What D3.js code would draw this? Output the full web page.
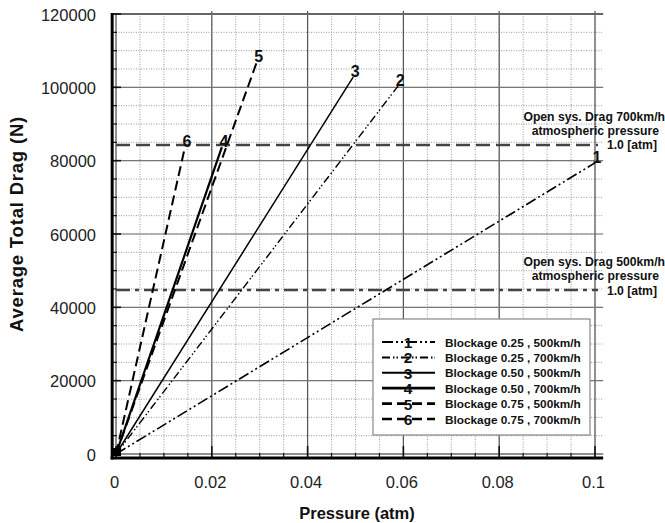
<!DOCTYPE html>
<html>
<head>
<meta charset="utf-8">
<script src="https://cdn.jsdelivr.net/npm/d3@7"></script>
<style>
  body { margin: 0; background: #fff; }
  text { font-family: "Liberation Sans", Arial, sans-serif; }
</style>
</head>
<body>
<div id="chart"></div>
<script>
// series: end points, every line starts at the origin
var seriesIds = ["1", "2", "3", "4", "5", "6"];
var seriesNames = [
  "Blockage 0.25 , 500km/h",
  "Blockage 0.25 , 700km/h",
  "Blockage 0.50 , 500km/h",
  "Blockage 0.50 , 700km/h",
  "Blockage 0.75 , 500km/h",
  "Blockage 0.75 , 700km/h"
];
var pressure = [
  [0, 0.1],
  [0, 0.0589],
  [0, 0.0495],
  [0, 0.0221],
  [0, 0.0294],
  [0, 0.0144]
];
var drag = [
  [0, 79400],
  [0, 100400],
  [0, 102800],
  [0, 83700],
  [0, 106900],
  [0, 83700]
];

// open system reference drags at 1.0 atm
var refNames = ["Open sys. Drag 700km/h", "Open sys. Drag 500km/h"];
var refDrag = [84300, 44700];

var xTicks = [0, 0.02, 0.04, 0.06, 0.08, 0.1];
var xTickLabels = ["0", "0.02", "0.04", "0.06", "0.08", "0.1"];
var yTicks = [0, 20000, 40000, 60000, 80000, 100000, 120000];

var width = 665, height = 523;

var svg = d3
  .select("#chart")
  .append("svg")
  .attr("width", width)
  .attr("height", height);

var x = d3.scaleLinear().domain([0, 0.1]).range([116, 595]);
var y = d3.scaleLinear().domain([0, 120000]).range([454, 14]);

var xLeft = x(-0.0008), xRight = x(0.1017);
var yBottom = y(-1100), yTop = y(120000);

// minor grid (dotted)
var grid = svg.append("g");
grid
  .selectAll("line.vminor")
  .data(d3.range(0.005, 0.1016, 0.005))
  .enter()
  .append("line")
  .attr("x1", (d) => x(d))
  .attr("x2", (d) => x(d))
  .attr("y1", yTop)
  .attr("y2", y(0))
  .attr("stroke", "#9a9a9a")
  .attr("stroke-width", 1)
  .attr("stroke-dasharray", "1,1.5");
grid
  .selectAll("line.hminor")
  .data(d3.range(5000, 120000, 5000))
  .enter()
  .append("line")
  .attr("x1", x(0))
  .attr("x2", xRight)
  .attr("y1", (d) => y(d))
  .attr("y2", (d) => y(d))
  .attr("stroke", "#9a9a9a")
  .attr("stroke-width", 1)
  .attr("stroke-dasharray", "1,1.5");

// major grid (solid)
grid
  .selectAll("line.vmajor")
  .data(xTicks.slice(1))
  .enter()
  .append("line")
  .attr("x1", (d) => x(d))
  .attr("x2", (d) => x(d))
  .attr("y1", yTop - 3)
  .attr("y2", yBottom)
  .attr("stroke", "#555")
  .attr("stroke-width", 1.2);
grid
  .selectAll("line.hmajor")
  .data(yTicks.slice(1))
  .enter()
  .append("line")
  .attr("x1", xLeft)
  .attr("x2", xRight)
  .attr("y1", (d) => y(d))
  .attr("y2", (d) => y(d))
  .attr("stroke", (d) => (d === 120000 ? "#666" : "#777"))
  .attr("stroke-width", (d) => (d === 120000 ? 2 : 1.2));

// zero lines + small ticks between them and the axes
grid
  .append("line")
  .attr("x1", x(0)).attr("x2", x(0))
  .attr("y1", yTop).attr("y2", yBottom)
  .attr("stroke", "#222").attr("stroke-width", 1);
grid
  .append("line")
  .attr("x1", xLeft).attr("x2", xRight)
  .attr("y1", y(0)).attr("y2", y(0))
  .attr("stroke", "#222").attr("stroke-width", 1);
grid
  .selectAll("line.ytick")
  .data(d3.range(0, 120001, 5000))
  .enter()
  .append("line")
  .attr("x1", xLeft)
  .attr("x2", (d) => (d % 20000 === 0 ? x(0) + 5 : x(0) + 1))
  .attr("y1", (d) => y(d))
  .attr("y2", (d) => y(d))
  .attr("stroke", "#111")
  .attr("stroke-width", (d) => (d % 20000 === 0 ? 1.6 : 1.2));
grid
  .selectAll("line.xtick")
  .data(d3.range(0, 0.1016, 0.005))
  .enter()
  .append("line")
  .attr("x1", (d) => x(d))
  .attr("x2", (d) => x(d))
  .attr("y1", (d) => (Math.round(d * 1000) % 20 === 0 ? y(0) - 8 : y(0) - 1))
  .attr("y2", yBottom)
  .attr("stroke", "#111")
  .attr("stroke-width", (d) => (Math.round(d * 1000) % 20 === 0 ? 1.6 : 1.2));

// axis lines
svg
  .append("line")
  .attr("x1", xLeft).attr("x2", xLeft)
  .attr("y1", yTop - 1).attr("y2", yBottom + 1.5)
  .attr("stroke", "#000").attr("stroke-width", 3);
svg
  .append("line")
  .attr("x1", xLeft - 1.5).attr("x2", xRight)
  .attr("y1", yBottom).attr("y2", yBottom)
  .attr("stroke", "#000").attr("stroke-width", 3);

// tick labels
svg
  .append("g")
  .attr("transform", "translate(96,1)")
  .call(d3.axisLeft(y).tickValues(yTicks).tickSize(0).tickPadding(0).tickFormat(d3.format("d")))
  .call((g) => g.select(".domain").remove())
  .selectAll("text")
  .attr("font-family", "Liberation Sans, Arial, sans-serif")
  .attr("font-size", 16.5)
  .attr("fill", "#222");

svg
  .append("g")
  .attr("transform", "translate(-2," + 476 + ")")
  .call(
    d3.axisBottom(x).tickValues(xTicks).tickSize(0).tickPadding(0)
      .tickFormat((d, i) => xTickLabels[i])
  )
  .call((g) => g.select(".domain").remove())
  .selectAll("text")
  .attr("font-family", "Liberation Sans, Arial, sans-serif")
  .attr("font-size", 16.5)
  .attr("fill", "#222");

// axis titles
svg
  .append("text")
  .attr("x", 357)
  .attr("y", 519)
  .attr("text-anchor", "middle")
  .attr("font-weight", "bold")
  .attr("font-size", 16.5)
  .attr("fill", "#111")
  .text("Pressure (atm)");
svg
  .append("text")
  .attr("transform", "translate(23,224) rotate(-90)")
  .attr("text-anchor", "middle")
  .attr("font-weight", "bold")
  .attr("font-size", 18.5)
  .attr("letter-spacing", 0.8)
  .attr("fill", "#111")
  .text("Average Total Drag (N)");

// reference lines
var refDash = ["14,6", "14,5,4,5"];
refDrag.forEach(function (v, i) {
  svg
    .append("line")
    .attr("x1", x(0))
    .attr("x2", 598)
    .attr("y1", y(v))
    .attr("y2", y(v))
    .attr("stroke", "#444")
    .attr("stroke-width", 2.5)
    .attr("stroke-dasharray", refDash[i]);
  var lines = [
    [refNames[i], 665, -24],
    ["atmospheric pressure", 659, -10],
    ["1.0 [atm]", 657, 4.5]
  ];
  lines.forEach(function (l) {
    svg
      .append("text")
      .attr("x", l[1])
      .attr("y", y(v) + l[2])
      .attr("text-anchor", "end")
      .attr("font-weight", "bold")
      .attr("font-size", 12.2)
      .attr("fill", "#111")
      .text(l[0]);
  });
});

// series lines
var dashes = ["11,3,2,3,2,3", "8,3,1.5,2,1.5,3", null, null, "10,5", "10,5"];
var widths = [1.6, 1.4, 1.5, 2.2, 2, 2];
var line = d3
  .line()
  .x((d) => x(d[0]))
  .y((d) => y(d[1]));

seriesIds.forEach(function (id, i) {
  var pts = pressure[i].map((p, j) => [p, drag[i][j]]);
  svg
    .append("path")
    .datum(pts)
    .attr("d", line)
    .attr("fill", "none")
    .attr("stroke", "#000")
    .attr("stroke-width", widths[i])
    .attr("stroke-dasharray", dashes[i]);
  var last = pts[pts.length - 1];
  svg
    .append("text")
    .attr("x", x(last[0]) + 2)
    .attr("y", y(last[1]) + 0)
    .attr("text-anchor", "middle")
    .attr("font-weight", "bold")
    .attr("font-size", 16)
    .attr("fill", "#111")
    .text(id);
});

// origin blob
svg
  .append("rect")
  .attr("x", x(0) - 3)
  .attr("y", y(0) - 6)
  .attr("width", 8)
  .attr("height", 8)
  .attr("fill", "#000");

// legend
var legend = svg.append("g");
legend
  .append("rect")
  .attr("x", 373)
  .attr("y", 319)
  .attr("width", 217)
  .attr("height", 116)
  .attr("fill", "#fff")
  .attr("stroke", "#888")
  .attr("stroke-width", 1.2);

var row = d3.scaleLinear().domain([0, 5]).range([342, 419]);
seriesIds.forEach(function (id, i) {
  var g = legend.append("g").attr("transform", "translate(0," + row(i) + ")");
  g.append("line")
    .attr("x1", 382)
    .attr("x2", 435)
    .attr("stroke", "#000")
    .attr("stroke-width", widths[i] + 0.6)
    .attr("stroke-dasharray", dashes[i]);
  g.append("text")
    .attr("x", 408)
    .attr("y", 6)
    .attr("text-anchor", "middle")
    .attr("font-weight", "bold")
    .attr("font-size", 15.5)
    .attr("fill", "#111")
    .text(id);
  g.append("text")
    .attr("x", 445)
    .attr("y", 4.5)
    .attr("font-weight", "bold")
    .attr("font-size", 11.8)
    .attr("fill", "#111")
    .text(seriesNames[i]);
});
</script>
</body>
</html>
